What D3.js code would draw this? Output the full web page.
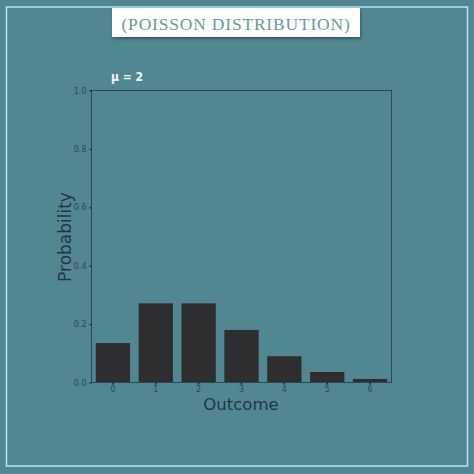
<!DOCTYPE html>
<html><head><meta charset="utf-8">
<script src="https://cdn.jsdelivr.net/npm/d3@7"></script>
<style>body{margin:0;background:#528791;}svg{display:block;}</style>
</head><body>
<script>
const outcomes = [0,1,2,3,4,5,6];
const probabilities = [0.135,0.271,0.271,0.180,0.090,0.036,0.012];
const yTicks = [0,0.2,0.4,0.6,0.8,1.0];
const titleText = "(POISSON DISTRIBUTION)";
const muLabel = "μ = 2";

const W=474,H=474;
const svg=d3.select("body").append("svg").attr("width",W).attr("height",H);
svg.append("rect").attr("width",W).attr("height",H).attr("fill","#528791");
svg.append("rect").attr("x",6.5).attr("y",7).attr("width",461).attr("height",459)
  .attr("fill","none").attr("stroke","#b5e3f0").attr("stroke-width",1.5);

const defs=svg.append("defs");
const f=defs.append("filter").attr("id","sh").attr("x","-10%").attr("y","-30%").attr("width","120%").attr("height","170%");
f.append("feDropShadow").attr("dx",1).attr("dy",2).attr("stdDeviation",1.5).attr("flood-color","#1d3a42").attr("flood-opacity",0.6);
svg.append("rect").attr("x",112).attr("y",8).attr("width",248).attr("height",29).attr("fill","#ffffff").attr("filter","url(#sh)");
svg.append("text").attr("x",236).attr("y",29.5).attr("text-anchor","middle")
  .attr("font-family","Liberation Serif, DejaVu Serif, serif").attr("font-size",17.5)
  .attr("letter-spacing",0.8).attr("fill","#6a98a2").text(titleText);

const pL=91.5,pR=391.5,pT=90.5,pB=382.5;
const x=d3.scaleBand().domain(outcomes).range([pL,pR]).paddingInner(0.2).paddingOuter(0.1);
const y=d3.scaleLinear().domain([0,1]).range([pB,pT]);

const g=svg.append("g");
g.selectAll("rect.bar").data(outcomes).enter().append("rect").attr("class","bar")
  .attr("x",d=>x(d)).attr("width",x.bandwidth())
  .attr("y",(d,i)=>y(probabilities[i])).attr("height",(d,i)=>y(0)-y(probabilities[i]))
  .attr("fill","#2e2e30");

g.append("rect").attr("x",pL).attr("y",pT).attr("width",pR-pL).attr("height",pB-pT)
  .attr("fill","none").attr("stroke","#27495a").attr("stroke-width",1);

const yAxis=d3.axisLeft(y).tickValues(yTicks).tickSize(2).tickPadding(3).tickFormat(d3.format(".1f"));
const ya=svg.append("g").attr("transform",`translate(${pL},0)`).call(yAxis);
ya.select(".domain").remove();
ya.selectAll("line").attr("stroke","#1e2f36").attr("stroke-width",1.5);
ya.selectAll("text").attr("font-family","DejaVu Sans").attr("font-size",8).attr("fill","#2b4753");

const xAxis=d3.axisBottom(x).tickSize(2).tickPadding(2);
const xa=svg.append("g").attr("transform",`translate(0,${pB})`).call(xAxis);
xa.select(".domain").remove();
xa.selectAll("line").attr("stroke","#1e2f36").attr("stroke-width",1.5);
xa.selectAll("text").attr("font-family","DejaVu Sans").attr("font-size",8).attr("fill","#2b4753");

svg.append("text").attr("transform",`translate(71,237) rotate(-90)`).attr("text-anchor","middle")
  .attr("font-family","DejaVu Sans").attr("font-size",17).attr("fill","#1f3943").text("Probability");
svg.append("text").attr("x",241).attr("y",410).attr("text-anchor","middle")
  .attr("font-family","DejaVu Sans").attr("font-size",16.5).attr("fill","#1f3943").text("Outcome");

svg.append("text").attr("x",127).attr("y",81).attr("text-anchor","middle")
  .attr("font-family","DejaVu Sans Condensed, DejaVu Sans").attr("font-weight","bold").attr("font-size",12)
  .attr("fill","#eef8fb").text(muLabel);
</script>
</body></html>
